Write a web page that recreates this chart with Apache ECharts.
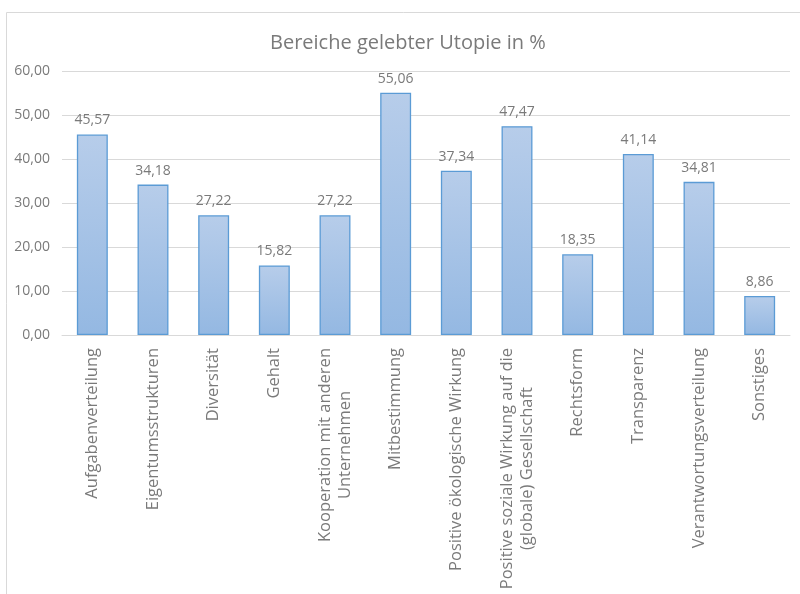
<!DOCTYPE html>
<html><head><meta charset="utf-8">
<script src="https://cdn.jsdelivr.net/npm/echarts@6/dist/echarts.min.js"></script>
<style>html,body{margin:0;padding:0;background:#fff}#c{width:800px;height:594px}</style>
</head><body><div id="c"></div>
<script>
const categories = ["Aufgabenverteilung","Eigentumsstrukturen","Diversität","Gehalt","Kooperation mit anderen\nUnternehmen","Mitbestimmung","Positive ökologische Wirkung","Positive soziale Wirkung auf die\n(globale) Gesellschaft","Rechtsform","Transparenz","Verantwortungsverteilung","Sonstiges"];
const values = [45.57,34.18,27.22,15.82,27.22,55.06,37.34,47.47,18.35,41.14,34.81,8.86];
const yTicks = {min:0,max:60,interval:10};
const FONT = "Open Sans";
const chart = echarts.init(document.getElementById('c'));
chart.setOption({
  animation:false,
  graphic:[{type:'rect',shape:{x:6.5,y:12.5,width:820,height:620},style:{fill:'none',stroke:'#d9d9d9',lineWidth:1},silent:true}],
  title:{text:'Bereiche gelebter Utopie in %',left:265,top:28,textStyle:{fontFamily:FONT,fontSize:20,fontWeight:'normal',color:'#7a7a7a'}},
  grid:{left:62,right:10,top:71,bottom:259,containLabel:false},
  xAxis:{type:'category',data:categories,
    axisLine:{lineStyle:{color:'#d9d9d9'}},axisTick:{show:false},
    axisLabel:{rotate:90,interval:0,margin:13,fontFamily:FONT,fontSize:16.5,color:'#7a7a7a',lineHeight:20,
      formatter:v=>v.split('\n').map(s=>'{a|'+s+'}').join('\n'),
      rich:{a:{align:'center',fontFamily:FONT,fontSize:16.5,color:'#7a7a7a',lineHeight:20}}}},
  yAxis:{type:'value',min:yTicks.min,max:yTicks.max,interval:yTicks.interval,
    axisLine:{show:false},axisTick:{show:false},
    splitLine:{lineStyle:{color:'#d9d9d9'}},
    axisLabel:{margin:12,fontFamily:FONT,fontSize:14,color:'#7a7a7a',formatter:v=>v.toFixed(2).replace('.',',')}},
  series:[{type:'bar',data:values,barWidth:'51%',
    itemStyle:{borderColor:'#5b9bd5',borderWidth:1.3,
      color:new echarts.graphic.LinearGradient(0,0,0,1,[{offset:0,color:'#b7cdea'},{offset:1,color:'#94b8e2'}])},
    label:{show:true,position:'top',distance:7,fontFamily:FONT,fontSize:14,color:'#7a7a7a',
      formatter:p=>p.value.toFixed(2).replace('.',',')}}]
});
</script></body></html>
